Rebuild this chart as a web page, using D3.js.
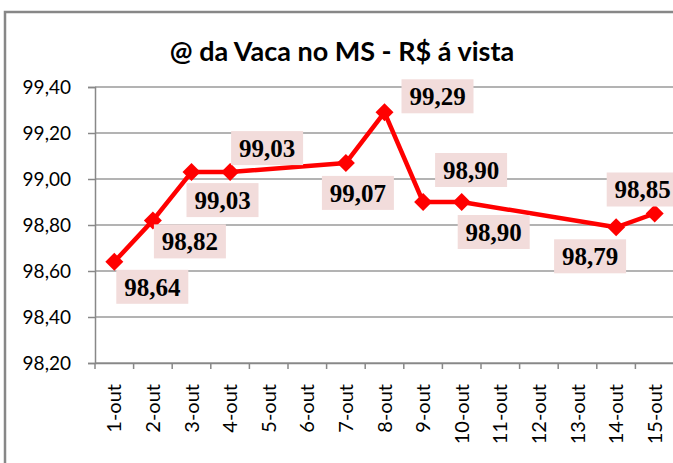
<!DOCTYPE html>
<html>
<head>
<meta charset="utf-8">
<script src="https://cdn.jsdelivr.net/npm/d3@7"></script>
<style>
  body { margin: 0; background: #fff; }
  svg { display: block; }
</style>
</head>
<body>
<div class="chart"></div>
<script>
(function() {
    const width = 673
    const height = 463

    // data
    const categories = ['1-out', '2-out', '3-out', '4-out', '5-out', '6-out', '7-out', '8-out',
        '9-out', '10-out', '11-out', '12-out', '13-out', '14-out', '15-out']
    const days = ['1-out', '2-out', '3-out', '4-out', '7-out', '8-out', '9-out', '10-out', '14-out', '15-out']
    const prices = [98.64, 98.82, 99.03, 99.03, 99.07, 99.29, 98.90, 98.90, 98.79, 98.85]
    const yTicks = [98.2, 98.4, 98.6, 98.8, 99.0, 99.2, 99.4]

    // label box centre relative to its point (layout only)
    const labelOffsets = [[38, 25], [37, 21], [31, 28], [37, -24], [12, 30],
        [53, -16], [48, -32], [32, 30], [-26, 29], [-12, -24]]

    const fmt = v => d3.format('.2f')(v).replace('.', ',')

    const svg = d3.select('.chart')
        .append('svg')
        .attr('width', width)
        .attr('height', height)

    // outer chart border (cut by the picture on the right and bottom)
    svg.append('rect')
        .attr('x', 5)
        .attr('y', 12)
        .attr('width', 720)
        .attr('height', 520)
        .attr('fill', '#fff')
        .attr('stroke', '#878787')
        .attr('stroke-width', 2.5)

    svg.append('text')
        .attr('x', 342)
        .attr('y', 61)
        .attr('text-anchor', 'middle')
        .style('font-family', 'Lato, sans-serif')
        .style('font-weight', 'bold')
        .style('font-size', '27px')
        .text('@ da Vaca no MS - R$ á vista')

    const x = d3.scaleBand()
        .domain(categories)
        .range([95, 674])

    const y = d3.scaleLinear()
        .domain([98.2, 99.4])
        .range([363, 87])

    // gridlines
    svg.append('g')
        .selectAll('line')
        .data(yTicks)
        .join('line')
        .attr('x1', 95)
        .attr('x2', 674)
        .attr('y1', d => y(d))
        .attr('y2', d => y(d))
        .attr('stroke', '#9a9a9a')
        .attr('stroke-width', 1.5)

    // y axis
    const yAxis = svg.append('g')
        .attr('transform', 'translate(95,0)')
        .call(d3.axisLeft(y).tickValues(yTicks).tickFormat(fmt).tickSize(7).tickPadding(17))
    yAxis.select('.domain').attr('stroke', '#888').attr('stroke-width', 1.5)
    yAxis.selectAll('.tick line').attr('stroke', '#888').attr('stroke-width', 1.5)
    yAxis.selectAll('.tick text')
        .attr('fill', '#000')
        .style('font-family', 'Lato, sans-serif')
        .style('font-size', '19px')

    // x axis
    const xAxis = svg.append('g')
        .attr('transform', 'translate(0,363)')
        .call(d3.axisBottom(x).tickSize(0))
    xAxis.select('.domain').attr('stroke', '#888').attr('stroke-width', 1.5)
    xAxis.selectAll('.tick text')
        .attr('fill', '#000')
        .attr('transform', 'rotate(-90)')
        .attr('text-anchor', 'end')
        .attr('x', -21)
        .attr('y', 0)
        .attr('dy', '0.35em')
        .style('font-family', 'Lato, sans-serif')
        .style('font-size', '20px')

    // x tick marks at category boundaries
    xAxis.append('g')
        .selectAll('line')
        .data(categories)
        .join('line')
        .attr('x1', d => x(d))
        .attr('x2', d => x(d))
        .attr('y1', 0)
        .attr('y2', 6)
        .attr('stroke', '#888')
        .attr('stroke-width', 1.5)

    const points = days.map((d, i) => ({
        day: d,
        value: prices[i],
        cx: x(d) + x.bandwidth() / 2,
        cy: y(prices[i]),
        off: labelOffsets[i]
    }))

    svg.append('path')
        .datum(points)
        .attr('fill', 'none')
        .attr('stroke', '#ff0000')
        .attr('stroke-width', 4.5)
        .attr('stroke-linejoin', 'round')
        .attr('d', d3.line().x(d => d.cx).y(d => d.cy))

    const r = 9
    svg.append('g')
        .selectAll('path')
        .data(points)
        .join('path')
        .attr('transform', d => `translate(${d.cx},${d.cy})`)
        .attr('d', `M0,${-r}L${r},0L0,${r}L${-r},0Z`)
        .attr('fill', '#ff0000')

    // data labels
    const labels = svg.append('g')
        .selectAll('g')
        .data(points)
        .join('g')
        .attr('transform', d => `translate(${d.cx + d.off[0]},${d.cy + d.off[1]})`)

    labels.append('rect')
        .attr('x', -36)
        .attr('y', -17)
        .attr('width', 72)
        .attr('height', 34)
        .attr('fill', '#f2dcdb')

    labels.append('text')
        .attr('text-anchor', 'middle')
        .attr('dy', '0.35em')
        .style('font-family', '"Liberation Serif", serif')
        .style('font-weight', 'bold')
        .style('font-size', '25px')
        .text(d => fmt(d.value))
}())
</script>
</body>
</html>
